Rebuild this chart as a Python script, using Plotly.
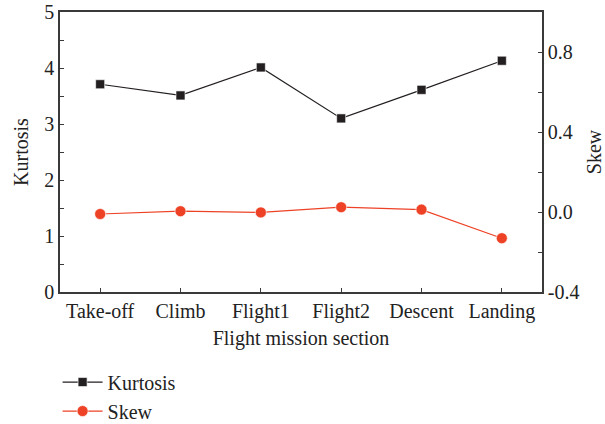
import plotly.graph_objects as go

# Flight mission sections and the statistics measured in each
sections = ["Take-off", "Climb", "Flight1", "Flight2", "Descent", "Landing"]
kurtosis = [3.71, 3.51, 4.01, 3.10, 3.61, 4.13]
skew = [-0.010, 0.004, -0.002, 0.024, 0.012, -0.131]

left_ticks = [0, 1, 2, 3, 4, 5]
right_ticks = [-0.4, 0.0, 0.4, 0.8]
right_labels = ["-0.4", "0.0", "0.4", "0.8"]

FONT = "Liberation Serif"
FS = 20
AXIS_COLOR = "#3a3a3a"
TEXT_COLOR = "#222"
KURT_COLOR = "#231f20"
SKEW_COLOR = "#ee4226"

fig = go.Figure()

fig.add_trace(go.Scatter(
    x=sections, y=kurtosis, name="Kurtosis", mode="lines+markers",
    line=dict(color=KURT_COLOR, width=1.2),
    marker=dict(symbol="square", size=9, color=KURT_COLOR,
                line=dict(color="white", width=0.6)),
    legendgroup="k",
))
fig.add_trace(go.Scatter(
    x=sections, y=skew, name="Skew", mode="lines+markers", yaxis="y2",
    line=dict(color=SKEW_COLOR, width=1.2),
    marker=dict(symbol="circle", size=11, color=SKEW_COLOR,
                line=dict(color="white", width=0.6)),
    legendgroup="s",
))

axis_common = dict(
    showline=True, linecolor=AXIS_COLOR, linewidth=1.5,
    ticks="inside", ticklen=4, tickwidth=1, tickcolor=AXIS_COLOR,
    showgrid=False, zeroline=False,
    tickfont=dict(family=FONT, size=FS, color=TEXT_COLOR),
)

fig.update_layout(
    width=605, height=424,
    margin=dict(l=60, r=63, t=12, b=132, autoexpand=False),
    paper_bgcolor="white", plot_bgcolor="white",
    font=dict(family=FONT, size=FS, color=TEXT_COLOR),
    xaxis=dict(
        **axis_common, mirror=True, range=[-0.5, 5.5],
        title=dict(text="Flight mission section", standoff=9,
                   font=dict(family=FONT, size=FS, color=TEXT_COLOR)),
    ),
    yaxis=dict(
        **axis_common, range=[0, 5], tickvals=left_ticks,
        minor=dict(dtick=0.5, ticks="inside", ticklen=4, tickcolor=AXIS_COLOR),
        title=dict(text="Kurtosis", standoff=10,
                   font=dict(family=FONT, size=FS, color=TEXT_COLOR)),
    ),
    yaxis2=dict(
        **axis_common, overlaying="y", side="right", range=[-0.4, 1.0],
        tickvals=right_ticks, ticktext=right_labels,
        minor=dict(tickvals=[-0.2, 0.2, 0.6], ticks="inside", ticklen=4,
                   tickcolor=AXIS_COLOR),
        title=dict(text="Skew", standoff=10,
                   font=dict(family=FONT, size=FS, color=TEXT_COLOR)),
    ),
    showlegend=True,
    legend=dict(
        x=-0.005, y=-0.252, xanchor="left", yanchor="top",
        orientation="v", tracegroupgap=0,
        font=dict(family=FONT, size=FS, color=TEXT_COLOR),
        bgcolor="rgba(0,0,0,0)", itemwidth=40,
    ),
)

fig.write_html("out.html")
